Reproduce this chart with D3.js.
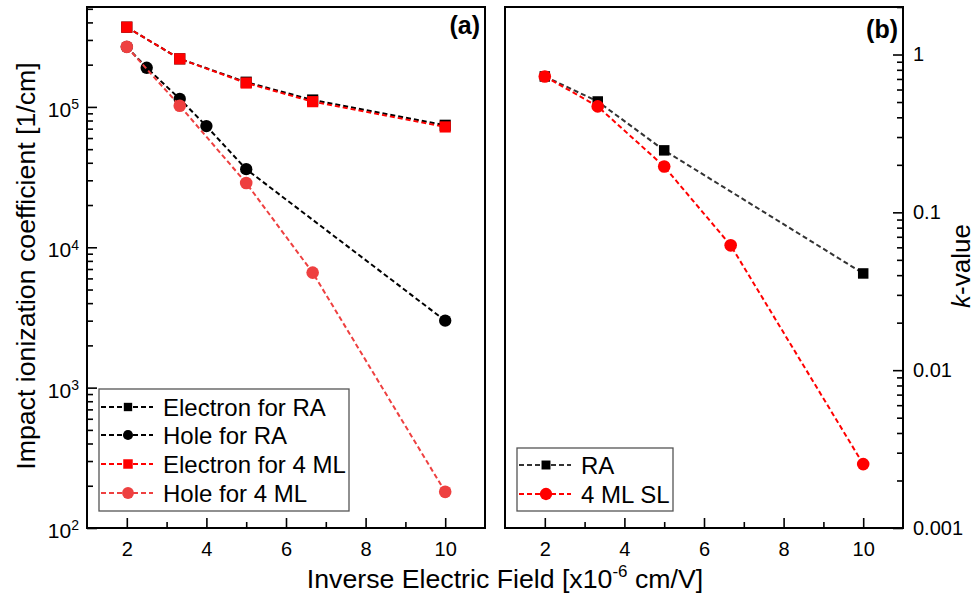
<!DOCTYPE html>
<html>
<head>
<meta charset="utf-8">
<script src="https://cdn.jsdelivr.net/npm/d3@7"></script>
<style>
  body { margin: 0; background: #fff; }
  svg { display: block; font-family: "Liberation Sans", Arial, sans-serif; }
</style>
</head>
<body>
<svg id="chart" width="975" height="606"></svg>
<script>
// ---- Data ----
const xTicks = [2, 4, 6, 8, 10];
const xMinorTicks = [3, 5, 7, 9];

// Panel (a): impact ionization coefficient [1/cm]
const xElecRA = [2, 3.33, 5, 6.67, 10];
const elecRA = [3.7e5, 2.2e5, 1.5e5, 1.12e5, 7.4e4];
const xHoleRA = [2, 2.5, 3.33, 4, 5, 10];
const holeRA = [2.68e5, 1.9e5, 1.14e5, 7.3e4, 3.6e4, 3.0e3];
const xElec4ML = [2, 3.33, 5, 6.67, 10];
const elec4ML = [3.7e5, 2.2e5, 1.48e5, 1.09e5, 7.2e4];
const xHole4ML = [2, 3.33, 5, 6.67, 10];
const hole4ML = [2.68e5, 1.02e5, 2.87e4, 6.6e3, 181];
const aYTicks = [1e2, 1e3, 1e4, 1e5];

// Panel (b): k-value
const xKRA = [2, 3.33, 5, 10];
const kRA = [0.726, 0.504, 0.247, 0.041];
const xK4ML = [2, 3.33, 5, 6.67, 10];
const k4ML = [0.726, 0.469, 0.195, 0.0618, 0.00254];
const bYTicks = [0.001, 0.01, 0.1, 1];
const bYTickLabels = ["0.001", "0.01", "0.1", "1"];

const legendA = ["Electron for RA", "Hole for RA", "Electron for 4 ML", "Hole for 4 ML"];
const legendB = ["RA", "4 ML SL"];

// ---- Layout ----
const svg = d3.select("#chart");
const pa = {left: 87, right: 485, top: 7, bottom: 528};
const pb = {left: 505, right: 903, top: 7, bottom: 528};

const xa = d3.scaleLinear().domain([1, 11]).range([pa.left, pa.right]);
const ya = d3.scaleLog().domain([100, 5.15e5]).range([pa.bottom, pa.top]);
const xb = d3.scaleLinear().domain([1, 11]).range([pb.left, pb.right]);
const yb = d3.scaleLog().domain([0.001, 2]).range([pb.bottom, pb.top]);

function minorLog(domain) {
  const out = [];
  const lo = Math.floor(Math.log10(domain[0])), hi = Math.ceil(Math.log10(domain[1]));
  for (let e = lo; e <= hi; e++) {
    for (let m = 2; m <= 9; m++) {
      const v = m * Math.pow(10, e);
      if (v >= domain[0] && v <= domain[1]) out.push(v);
    }
  }
  return out;
}

const font = "Liberation Sans, Arial, sans-serif";

function styleAxis(g) {
  g.select(".domain").remove();
  g.selectAll(".tick line").attr("stroke", "#000").attr("stroke-width", 1.6);
  g.selectAll(".tick text").attr("fill", "#000").attr("font-family", font);
}

// ---- Panel (a) axes ----
svg.append("g").attr("transform", `translate(0,${pa.bottom})`)
  .call(d3.axisBottom(xa).tickValues(xTicks).tickSize(-10).tickPadding(14).tickFormat(d3.format("d")))
  .call(styleAxis).call(g => g.selectAll(".tick text").attr("font-size", 20));
svg.append("g").attr("transform", `translate(0,${pa.bottom})`)
  .call(d3.axisBottom(xa).tickValues(xMinorTicks).tickSize(-6).tickFormat(""))
  .call(styleAxis);
svg.append("g").attr("transform", `translate(${pa.left},0)`)
  .call(d3.axisLeft(ya).tickValues(aYTicks).tickSize(-10).tickPadding(8).tickFormat(""))
  .call(styleAxis)
  .call(g => g.selectAll(".tick text").each(function(d) {
    const t = d3.select(this).attr("font-size", 21).attr("dy", "0.45em");
    t.append("tspan").text("10");
    t.append("tspan").attr("dy", "-0.55em").attr("font-size", 14).text(Math.round(Math.log10(d)));
  }));
svg.append("g").attr("transform", `translate(${pa.left},0)`)
  .call(d3.axisLeft(ya).tickValues(minorLog(ya.domain())).tickSize(-6).tickFormat(""))
  .call(styleAxis);

// ---- Panel (b) axes ----
svg.append("g").attr("transform", `translate(0,${pb.bottom})`)
  .call(d3.axisBottom(xb).tickValues(xTicks).tickSize(-10).tickPadding(14).tickFormat(d3.format("d")))
  .call(styleAxis).call(g => g.selectAll(".tick text").attr("font-size", 20));
svg.append("g").attr("transform", `translate(0,${pb.bottom})`)
  .call(d3.axisBottom(xb).tickValues(xMinorTicks).tickSize(-6).tickFormat(""))
  .call(styleAxis);
svg.append("g").attr("transform", `translate(${pb.right},0)`)
  .call(d3.axisRight(yb).tickValues(bYTicks).tickSize(-10).tickPadding(10)
    .tickFormat((d, i) => bYTickLabels[i]))
  .call(styleAxis).call(g => g.selectAll(".tick text").attr("font-size", 20));
svg.append("g").attr("transform", `translate(${pb.right},0)`)
  .call(d3.axisRight(yb).tickValues(minorLog(yb.domain())).tickSize(-6).tickFormat(""))
  .call(styleAxis);

// ---- Frames ----
[pa, pb].forEach(p => {
  svg.append("rect").attr("x", p.left).attr("y", p.top)
    .attr("width", p.right - p.left).attr("height", p.bottom - p.top)
    .attr("fill", "none").attr("stroke", "#000").attr("stroke-width", 2);
});

// ---- Series drawing ----
function drawSeries(xs, ys, xScale, yScale, color, lineColor, shape, size) {
  const pts = xs.map((x, i) => [x, ys[i]]);
  const line = d3.line().x(d => xScale(d[0])).y(d => yScale(d[1]));
  svg.append("path").datum(pts).attr("d", line)
    .attr("fill", "none").attr("stroke", lineColor).attr("stroke-width", 2)
    .attr("stroke-dasharray", "5,3");
  const sym = d3.symbol().type(shape === "square" ? d3.symbolSquare : d3.symbolCircle).size(size);
  svg.append("g").selectAll("path").data(pts).join("path")
    .attr("d", sym)
    .attr("transform", d => `translate(${xScale(d[0])},${yScale(d[1])})`)
    .attr("fill", color);
}

const RED = "#ff0000";
const LRED = "#ee4040";

drawSeries(xElecRA, elecRA, xa, ya, "#000", "#000", "square", 125);
drawSeries(xHoleRA, holeRA, xa, ya, "#000", "#000", "circle", 120);
drawSeries(xElec4ML, elec4ML, xa, ya, RED, RED, "square", 125);
drawSeries(xHole4ML, hole4ML, xa, ya, LRED, LRED, "circle", 125);

drawSeries(xKRA, kRA, xb, yb, "#000", "#333", "square", 110);
drawSeries(xK4ML, k4ML, xb, yb, RED, RED, "circle", 125);

// ---- Legends ----
function legend(x0, y0, w, h, rows, items, fontSize) {
  svg.append("rect").attr("x", x0).attr("y", y0).attr("width", w).attr("height", h)
    .attr("fill", "#fff").attr("stroke", "#555").attr("stroke-width", 1.3);
  items.forEach((it, i) => {
    const cy = rows[i];
    svg.append("line").attr("x1", x0 + 2).attr("x2", x0 + 54).attr("y1", cy).attr("y2", cy)
      .attr("stroke", it.line).attr("stroke-width", 2).attr("stroke-dasharray", "5,3");
    const sym = d3.symbol().type(it.shape === "square" ? d3.symbolSquare : d3.symbolCircle).size(it.size);
    svg.append("path").attr("d", sym).attr("transform", `translate(${x0 + 29},${cy})`).attr("fill", it.color);
    svg.append("text").attr("x", x0 + 64).attr("y", cy).attr("dy", "0.36em")
      .attr("font-size", fontSize).attr("font-family", font).attr("fill", "#000").text(it.label);
  });
}

legend(99, 389, 250, 122, [407, 435, 464, 493], [
  {label: legendA[0], color: "#000", line: "#000", shape: "square", size: 70},
  {label: legendA[1], color: "#000", line: "#000", shape: "circle", size: 80},
  {label: legendA[2], color: RED, line: RED, shape: "square", size: 90},
  {label: legendA[3], color: LRED, line: LRED, shape: "circle", size: 110}
], 24);

legend(517, 448, 156, 63, [465, 494], [
  {label: legendB[0], color: "#000", line: "#333", shape: "square", size: 80},
  {label: legendB[1], color: RED, line: RED, shape: "circle", size: 120}
], 24);

// ---- Panel labels ----
svg.append("text").attr("x", 480).attr("y", 34).attr("text-anchor", "end")
  .attr("font-size", 25).attr("font-weight", "bold").attr("font-family", font).text("(a)");
svg.append("text").attr("x", 898).attr("y", 38).attr("text-anchor", "end")
  .attr("font-size", 25).attr("font-weight", "bold").attr("font-family", font).text("(b)");

// ---- Axis titles ----
svg.append("text").attr("transform", "translate(35,266) rotate(-90)")
  .attr("text-anchor", "middle").attr("font-size", 26.7).attr("font-family", font)
  .text("Impact ionization coefficient [1/cm]");

const xt = svg.append("text").attr("x", 505).attr("y", 588).attr("text-anchor", "middle")
  .attr("font-size", 26.7).attr("font-family", font);
xt.append("tspan").text("Inverse Electric Field [x10");
xt.append("tspan").attr("dy", -11).attr("font-size", 17).text("-6");
xt.append("tspan").attr("dy", 11).text(" cm/V]");

const kt = svg.append("text").attr("transform", "translate(970,266) rotate(-90)")
  .attr("text-anchor", "middle").attr("font-size", 26).attr("font-family", font);
kt.append("tspan").attr("font-style", "italic").text("k");
kt.append("tspan").text("-value");
</script>
</body>
</html>
